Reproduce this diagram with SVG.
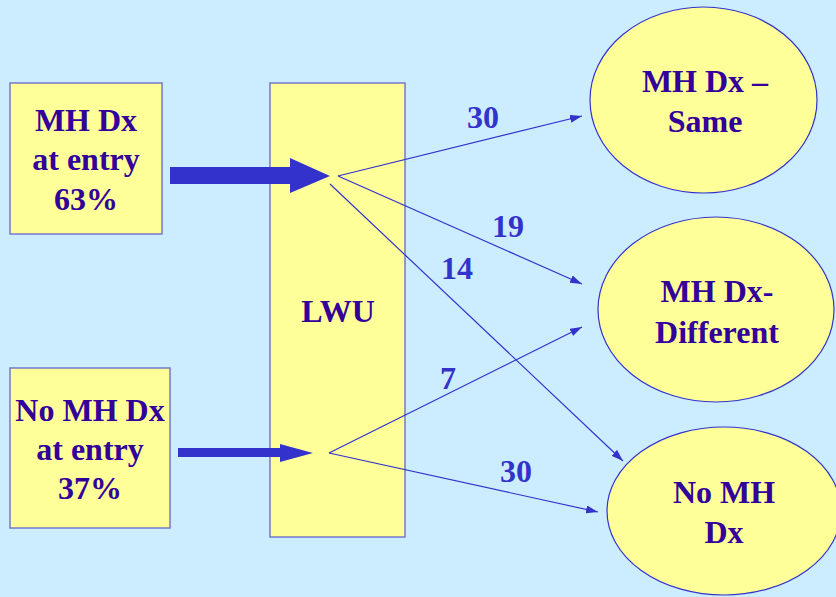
<svg xmlns="http://www.w3.org/2000/svg" width="836" height="597" viewBox="0 0 836 597">
<defs>
<style>
.box{fill:#FFFF99;stroke:#6666CC;stroke-width:1.3}
.ell{fill:#FFFF99;stroke:#3333CC;stroke-width:1.2}
.t{fill:#330099}
.lbl{fill:#3333CC}
.thin{stroke:#3333CC;stroke-width:1.2;fill:none;marker-end:url(#ah)}
.big{fill:#3333CC}
</style>
<marker id="ah" viewBox="0 0 12 8" refX="12" refY="4" markerWidth="12" markerHeight="8" markerUnits="userSpaceOnUse" orient="auto">
<path d="M0,0 L12,4 L0,8 Z" fill="#3333CC"/>
</marker>
</defs>
<rect width="836" height="597" fill="#CCECFF"/>
<g font-family="Liberation Serif, DejaVu Serif, serif" font-weight="bold" font-size="32" text-anchor="middle">
<g id="lwu">
<rect class="box" x="270" y="83" width="135" height="454"/>
<text class="t" x="338" y="322">LWU</text>
</g>
<g id="mh-entry">
<rect class="box" x="10" y="83" width="152" height="151"/>
<text class="t" x="86" y="131">MH Dx</text>
<text class="t" x="86" y="170">at entry</text>
<text class="t" x="86" y="210">63%</text>
</g>
<g id="nomh-entry">
<rect class="box" x="10" y="368" width="160" height="160"/>
<text class="t" x="90" y="421">No MH Dx</text>
<text class="t" x="90" y="460">at entry</text>
<text class="t" x="90" y="499">37%</text>
</g>
<g id="same">
<ellipse class="ell" cx="703.5" cy="100" rx="113.5" ry="93"/>
<text class="t" x="705" y="92">MH Dx –</text>
<text class="t" x="705" y="132">Same</text>
</g>
<g id="different">
<ellipse class="ell" cx="716" cy="309.5" rx="118" ry="92.5"/>
<text class="t" x="717" y="302">MH Dx-</text>
<text class="t" x="717" y="343">Different</text>
</g>
<g id="nomh">
<ellipse class="ell" cx="724" cy="511" rx="117" ry="84"/>
<text class="t" x="724" y="503">No MH</text>
<text class="t" x="724" y="543">Dx</text>
</g>
<g id="connectors">
<polygon class="big" points="170,167 290,167 290,158 330,176 290,193 290,184 170,184"/>
<polygon class="big" points="178,448 280,448 280,444 313,453 280,462 280,457 178,457"/>
<line class="thin" x1="338" y1="176" x2="582" y2="116"/>
<line class="thin" x1="338" y1="176" x2="582" y2="284"/>
<line class="thin" x1="330" y1="184" x2="623" y2="461"/>
<line class="thin" x1="329" y1="453" x2="582" y2="327"/>
<line class="thin" x1="329" y1="453" x2="598" y2="512"/>
<text class="lbl" x="483" y="128">30</text>
<text class="lbl" x="508" y="237">19</text>
<text class="lbl" x="457" y="279">14</text>
<text class="lbl" x="448" y="389">7</text>
<text class="lbl" x="516" y="482">30</text>
</g>
</g>
</svg>
